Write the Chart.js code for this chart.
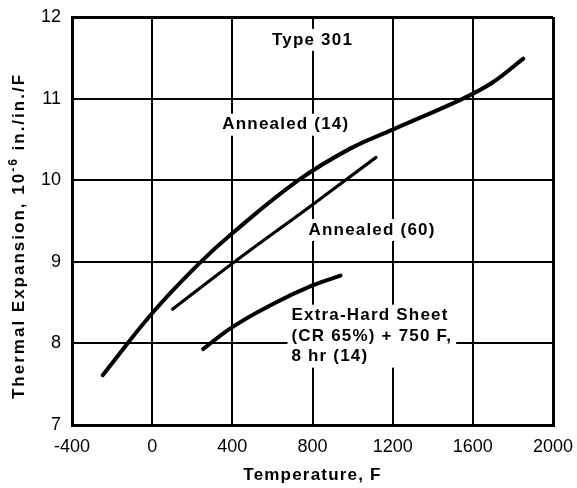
<!DOCTYPE html>
<html>
<head>
<meta charset="utf-8">
<script src="https://cdn.jsdelivr.net/npm/chart.js@4/dist/chart.umd.min.js"></script>
<style>
  html, body { margin: 0; padding: 0; background: #fff; }
  #wrap { width: 577px; height: 488px; }
</style>
</head>
<body>
<div id="wrap"><canvas id="c" width="577" height="488"></canvas></div>
<script>
// ---- data ----
const xTicks = [-400, 0, 400, 800, 1200, 1600, 2000];
const yTicks = [7, 8, 9, 10, 11, 12];

const annealed14Temp = [-247, 0, 235, 400, 730, 990, 1200, 1551, 1700, 1852];
const annealed14Val  = [7.61, 8.37, 8.98, 9.35, 10.0, 10.39, 10.62, 11.0, 11.2, 11.49];

const annealed60Temp = [102, 400, 800, 1117];
const annealed60Val  = [8.42, 8.98, 9.70, 10.28];

const extraHardTemp = [254, 400, 600, 800, 940];
const extraHardVal  = [7.93, 8.20, 8.48, 8.71, 8.83];

const chartTitle = 'Type 301';
const seriesLabels = ['Annealed (14)', 'Annealed (60)', ['Extra-Hard Sheet', '(CR 65%) + 750 F,', '8 hr (14)']];
const xTitle = 'Temperature, F';

const pts = (xs, ys) => xs.map((x, i) => ({ x: x, y: ys[i] }));

// annotation anchors (data coordinates) — layout only
const notes = [
  { lines: [chartTitle], x: 800, y: 11.72, align: 'center' },
  { lines: [seriesLabels[0]], x: 350, y: 10.68, align: 'left' },
  { lines: [seriesLabels[1]], x: 780, y: 9.39, align: 'left' },
  { lines: seriesLabels[2], x: 695, y: 8.34, align: 'left', lineGap: 20.5 }
];

const FONT = '"Liberation Sans", Arial, Helvetica, sans-serif';

const notesPlugin = {
  id: 'notes',
  afterDatasetsDraw(chart) {
    const ctx = chart.ctx;
    const xs = chart.scales.x, ys = chart.scales.y;
    ctx.save();
    ctx.font = 'bold 17px ' + FONT;
    ctx.letterSpacing = '1.2px';
    ctx.textBaseline = 'middle';
    ctx.fillStyle = '#000';
    notes.forEach(n => {
      const px = xs.getPixelForValue(n.x);
      const py = ys.getPixelForValue(n.y);
      const gap = n.lineGap || 20;
      const widths = n.lines.map(l => ctx.measureText(l).width);
      const maxW = Math.max(...widths);
      const left = n.align === 'center' ? px - maxW / 2 : px;
      ctx.fillStyle = '#fff';
      ctx.fillRect(left - 4, py - 11, maxW + 8, gap * (n.lines.length - 1) + 22);
      ctx.fillStyle = '#000';
      n.lines.forEach((l, i) => {
        ctx.textAlign = 'left';
        const lx = n.align === 'center' ? px - widths[i] / 2 : px;
        ctx.fillText(l, lx, py + i * gap);
      });
    });
    ctx.restore();
  },
  afterDraw(chart) {
    const ctx = chart.ctx;
    const ca = chart.chartArea;
    ctx.save();
    ctx.fillStyle = '#000';
    ctx.textBaseline = 'middle';
    ctx.font = 'bold 17px ' + FONT;
    ctx.letterSpacing = '1.2px';
    ctx.textAlign = 'center';
    ctx.fillText(xTitle, (ca.left + ca.right) / 2, 475);
    const parts = [
      { t: 'Thermal Expansion, 10', f: 'bold 17px ' + FONT, dy: 0 },
      { t: '-6', f: 'bold 12px ' + FONT, dy: -5 },
      { t: ' in./in./F', f: 'bold 17px ' + FONT, dy: 0 }
    ];
    ctx.letterSpacing = '2px';
    let total = 0;
    parts.forEach(p => { ctx.font = p.f; p.w = ctx.measureText(p.t).width; total += p.w; });
    ctx.translate(19, 236);
    ctx.rotate(-Math.PI / 2);
    ctx.textAlign = 'left';
    let cx = -total / 2;
    parts.forEach(p => { ctx.font = p.f; ctx.fillText(p.t, cx, p.dy); cx += p.w; });
    ctx.restore();
  }
};

const lineStyle = { borderColor: '#000', pointRadius: 0, cubicInterpolationMode: 'default', tension: 0.4, borderCapStyle: 'round', borderJoinStyle: 'round', fill: false };

new Chart(document.getElementById('c'), {
  type: 'line',
  data: {
    datasets: [
      Object.assign({ label: 'Annealed (14)', data: pts(annealed14Temp, annealed14Val), borderWidth: 4 }, lineStyle),
      Object.assign({ label: 'Annealed (60)', data: pts(annealed60Temp, annealed60Val), borderWidth: 3.2 }, lineStyle),
      Object.assign({ label: 'Extra-Hard Sheet', data: pts(extraHardTemp, extraHardVal), borderWidth: 4 }, lineStyle)
    ]
  },
  options: {
    responsive: false,
    animation: false,
    devicePixelRatio: 1,
    layout: { padding: { top: 17, right: 24, left: 0, bottom: 0 } },
    plugins: { legend: { display: false }, tooltip: { enabled: false } },
    scales: {
      x: {
        type: 'linear',
        min: -400, max: 2000,
        afterBuildTicks: s => { s.ticks = xTicks.map(v => ({ value: v })); },
        afterFit: s => { s.height = 63; s.paddingLeft = 0; s.paddingRight = 0; },
        ticks: { color: '#000', font: { family: FONT, size: 18 }, padding: 11, maxRotation: 0, autoSkip: false,
                 callback: v => String(v) },
        grid: {
          color: '#000',
          lineWidth: c => (c.index === 0 || c.index === xTicks.length - 1) ? 3 : 2,
          drawTicks: false
        },
        border: { display: true, color: '#000', width: 3 }
      },
      y: {
        type: 'linear',
        min: 7, max: 12,
        afterBuildTicks: s => { s.ticks = yTicks.map(v => ({ value: v })); },
        afterFit: s => { s.width = 72; s.paddingTop = 0; s.paddingBottom = 0; },
        ticks: { color: '#000', font: { family: FONT, size: 18 }, padding: 11, autoSkip: false,
                 callback: v => String(v) },
        grid: {
          color: '#000',
          lineWidth: c => (c.index === 0 || c.index === yTicks.length - 1) ? 3 : 2,
          drawTicks: false
        },
        border: { display: true, color: '#000', width: 3 }
      }
    }
  },
  plugins: [notesPlugin]
});
</script>
</body>
</html>
